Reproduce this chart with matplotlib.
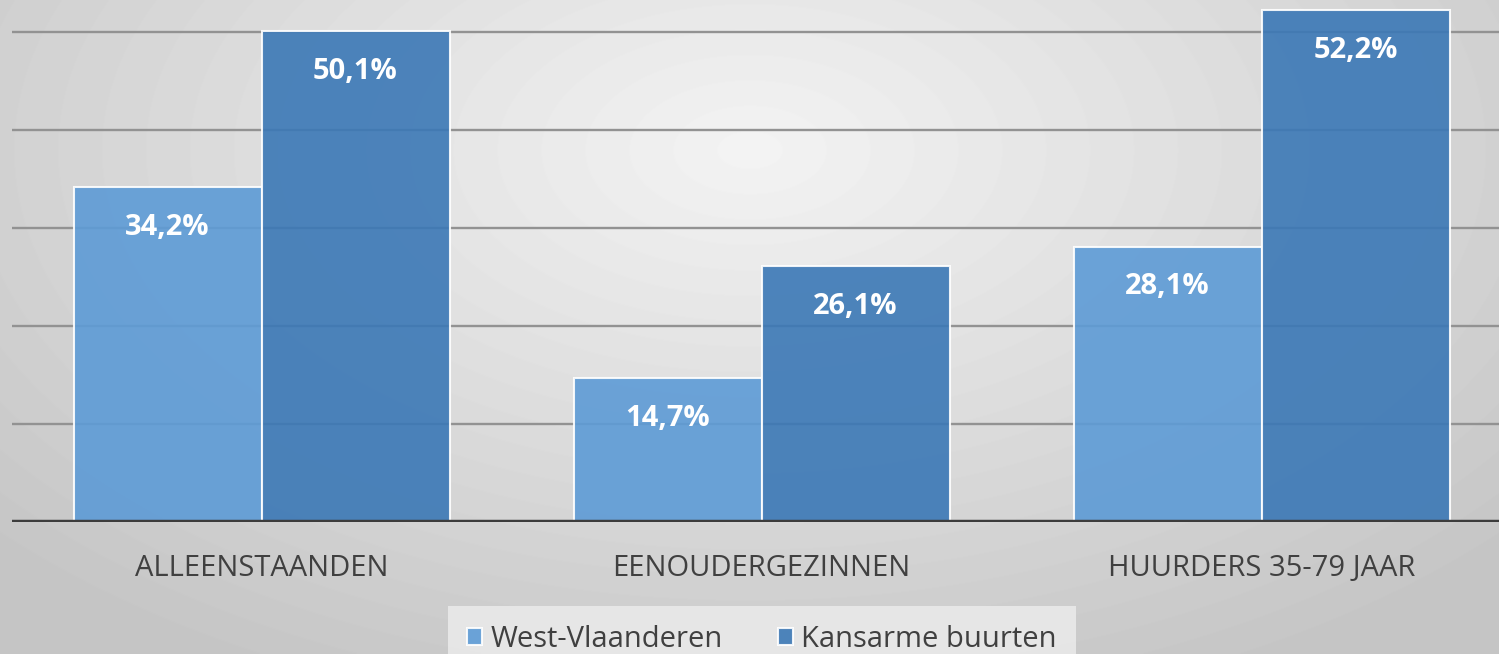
import numpy as np
import matplotlib
matplotlib.use("Agg")
import matplotlib.pyplot as plt

categories = ["ALLEENSTAANDEN", "EENOUDERGEZINNEN", "HUURDERS 35-79 JAAR"]
series_names = ["West-Vlaanderen", "Kansarme buurten"]
west_vlaanderen = [34.2, 14.7, 28.1]
kansarme_buurten = [50.1, 26.1, 52.2]
label_west = ["34,2%", "14,7%", "28,1%"]
label_kansarm = ["50,1%", "26,1%", "52,2%"]

W, H = 1499, 654
fig = plt.figure(figsize=(W / 100, H / 100), dpi=100)

# radial gradient background
bg = fig.add_axes([0, 0, 1, 1], zorder=0)
yy, xx = np.mgrid[0:H, 0:W]
r = np.sqrt(((xx - 750) / 900.0) ** 2 + ((yy - 150) / 520.0) ** 2)
val = np.clip(0.955 - 0.16 * r, 0.77, 0.96)
bg.imshow(val, cmap="gray", vmin=0, vmax=1, aspect="auto", extent=[0, 1, 0, 1], origin="upper")
bg.axis("off")

ax = fig.add_axes([12 / W, (H - 522) / H, (W - 12) / W, 522 / H], zorder=1)
ax.patch.set_alpha(0)
x = np.arange(len(categories))
bw = 0.376
ax.set_xlim(-0.499, 2.475)
ax.set_ylim(0, 522 / 9.8)

for yv in [10, 20, 30, 40, 50]:
    ax.axhline(yv, color="#929292", lw=1.7, zorder=1)

c_light = "#5d9bd6"
c_dark = "#3b78b6"
b1 = ax.bar(x - bw / 2, west_vlaanderen, bw, color=c_light, alpha=0.9,
            edgecolor="white", linewidth=1.5, zorder=2, label=series_names[0])
b2 = ax.bar(x + bw / 2, kansarme_buurten, bw, color=c_dark, alpha=0.9,
            edgecolor="white", linewidth=1.5, zorder=2, label=series_names[1])

ax.axhline(0, color="#3c3c3c", lw=3.2, zorder=3)

for bars, labels in [(b1, label_west), (b2, label_kansarm)]:
    for rect, lab in zip(bars, labels):
        ax.annotate(lab, (rect.get_x() + rect.get_width() / 2, rect.get_height()),
                    xytext=(0, -29), textcoords="offset points", ha="center", va="center",
                    color="white", fontsize=21, fontweight="bold", family="Open Sans", zorder=4)

for s in ax.spines.values():
    s.set_visible(False)
ax.set_yticks([])
ax.set_xticks(x)
ax.set_xticklabels(categories, fontsize=21, family="Open Sans", color="#404040")
ax.tick_params(axis="x", length=0, pad=23)

leg = fig.legend(handles=[b1, b2], labels=series_names, loc="upper center",
                 bbox_to_anchor=(762 / W, 1 - 619 / H), ncol=2, frameon=True,
                 prop={"family": "Open Sans", "size": 21}, handlelength=0.5,
                 handleheight=0.5, handletextpad=0.3, columnspacing=1.9,
                 borderpad=0.2, borderaxespad=0)
fr = leg.get_frame()
fr.set_facecolor("#ebebeb")
fr.set_edgecolor("none")
fr.set_alpha(0.85)
fr.set_boxstyle("square", pad=0.45)
for t in leg.get_texts():
    t.set_color("#404040")

fig.savefig("out.png", dpi=100)
